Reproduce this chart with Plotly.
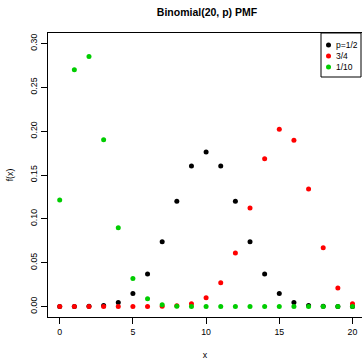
import plotly.graph_objects as go

# Binomial(20, p) probability mass values, x = 0..20
x_vals = list(range(21))
pmf_half = [0.0000, 0.0000, 0.0002, 0.0011, 0.0046, 0.0148, 0.0370, 0.0739,
            0.1201, 0.1602, 0.1762, 0.1602, 0.1201, 0.0739, 0.0370, 0.0148,
            0.0046, 0.0011, 0.0002, 0.0000, 0.0000]
pmf_three_quarters = [0.0000, 0.0000, 0.0000, 0.0000, 0.0000, 0.0000, 0.0000, 0.0002,
                      0.0008, 0.0030, 0.0099, 0.0271, 0.0609, 0.1124, 0.1686, 0.2023,
                      0.1897, 0.1339, 0.0669, 0.0211, 0.0032]
pmf_tenth = [0.1216, 0.2702, 0.2852, 0.1901, 0.0898, 0.0319, 0.0089, 0.0020,
             0.0004, 0.0001, 0.0000, 0.0000, 0.0000, 0.0000, 0.0000, 0.0000,
             0.0000, 0.0000, 0.0000, 0.0000, 0.0000]

series_labels = ["p=1/2", "3/4", "1/10"]
series_colors = ["#000000", "#FF0000", "#00CD00"]
series_values = [pmf_half, pmf_three_quarters, pmf_tenth]

x_ticks = [0, 5, 10, 15, 20]
y_ticks = [0.00, 0.05, 0.10, 0.15, 0.20, 0.25, 0.30]
y_tick_text = ["0.00", "0.05", "0.10", "0.15", "0.20", "0.25", "0.30"]

FONT = "Liberation Sans, Arial, Helvetica, sans-serif"
W, H = 362, 360
ML, MR, MT, MB = 48, 0, 33, 43
TICK_SIZE = 8.8

fig = go.Figure()
for vals, color, name in zip(series_values, series_colors, series_labels):
    fig.add_trace(go.Scatter(
        x=x_vals, y=vals, mode="markers", name=name,
        marker=dict(color=color, size=5, line=dict(width=0)),
        showlegend=False, hoverinfo="x+y"))

# Hand-built legend box on an overlay axis spanning [0, 1] in both directions
plot_w = W - ML - MR
plot_h = H - MT - MB


def px_to_frac_x(px):
    return (px - ML) / plot_w


def px_to_frac_y(py):
    return (H - MB - py) / plot_h


legend_rows = [45, 56, 67]
for row, color, name in zip(legend_rows, series_colors, series_labels):
    fig.add_trace(go.Scatter(
        x=[px_to_frac_x(328.5)], y=[px_to_frac_y(row)], mode="markers",
        marker=dict(color=color, size=5, line=dict(width=0)),
        xaxis="x2", yaxis="y2", showlegend=False, hoverinfo="skip"))
    fig.add_annotation(
        x=px_to_frac_x(334), y=px_to_frac_y(row), xref="x2", yref="y2",
        text=name, showarrow=False, xanchor="left", yanchor="middle",
        font=dict(family=FONT, size=8.5, color="#000000"))

fig.add_shape(type="rect", xref="x2", yref="y2",
              x0=px_to_frac_x(321), x1=px_to_frac_x(361),
              y0=px_to_frac_y(33), y1=px_to_frac_y(77),
              line=dict(color="#000000", width=1), fillcolor="rgba(0,0,0,0)")

fig.update_layout(
    width=W, height=H,
    margin=dict(l=ML, r=MR, t=MT, b=MB),
    paper_bgcolor="white", plot_bgcolor="white",
    title=dict(text="<b>Binomial(20, p) PMF</b>", x=(207) / W, xanchor="center",
               y=1 - 12 / H, yanchor="middle",
               font=dict(family=FONT, size=10.5, color="#000000")),
    xaxis=dict(range=[-0.8, 20.65], tickvals=x_ticks, showgrid=False, zeroline=False,
               showline=True, linecolor="#000000", linewidth=1, mirror=True,
               ticks="outside", ticklen=6, tickcolor="#000000", tickwidth=1,
               tickfont=dict(family=FONT, size=TICK_SIZE, color="#000000"),
               title=dict(text="x", font=dict(family=FONT, size=TICK_SIZE, color="#000000"),
                          standoff=17)),
    yaxis=dict(range=[-0.012, 0.312], tickvals=y_ticks, ticktext=y_tick_text,
               tickangle=-90, showgrid=False, zeroline=False,
               showline=True, linecolor="#000000", linewidth=1, mirror=False,
               ticks="outside", ticklen=6, tickcolor="#000000", tickwidth=1,
               tickfont=dict(family=FONT, size=TICK_SIZE, color="#000000"),
               title=dict(text="f(x)", font=dict(family=FONT, size=TICK_SIZE, color="#000000"),
                          standoff=14)),
    xaxis2=dict(range=[0, 1], overlaying="x", visible=False, fixedrange=True),
    yaxis2=dict(range=[0, 1], overlaying="y", visible=False, fixedrange=True),
    showlegend=False,
)

fig.write_html("out.html")
